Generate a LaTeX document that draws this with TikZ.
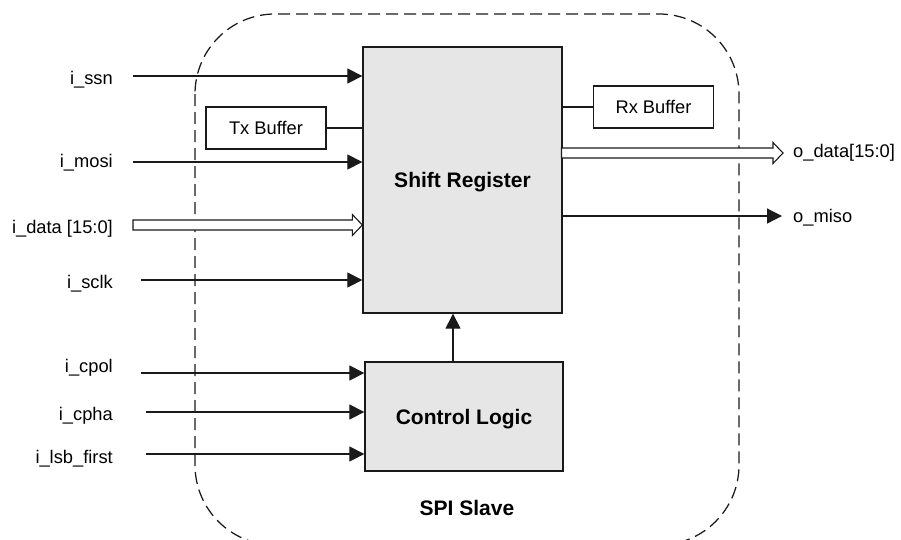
\documentclass[tikz,border=0pt]{standalone}
\usepackage{fontspec}
\setmainfont{Liberation Sans}
\usetikzlibrary{arrows.meta,calc}
\definecolor{blockgray}{HTML}{E6E6E7}
\definecolor{ink}{HTML}{1A1A1A}

% hollow bus arrow between two named points on one horizontal line
\newcommand{\busarrow}[2]{%
  \draw[bus] ($(#1)+(0,-5)$) -- ($(#2)+(-10,-5)$) -- ($(#2)+(-10,-10.5)$)
    -- (#2) -- ($(#2)+(-10,10.5)$) -- ($(#2)+(-10,5)$) -- ($(#1)+(0,5)$) -- cycle;}

\begin{document}
\begin{tikzpicture}[x=1pt,y=-1pt,
  font=\fontsize{18.3}{22}\selectfont,
  block/.style={draw=ink, line width=1.3pt, fill=blockgray, inner sep=0pt,
    text depth=0pt, font=\fontsize{21}{25}\selectfont\bfseries},
  buffer/.style={draw=ink, line width=1.2pt, fill=white, inner sep=0pt,
    minimum width=120pt, minimum height=42pt},
  sig/.style={draw=ink, line width=1.2pt, -{Triangle[length=15pt,width=15pt]}},
  wire/.style={draw=ink, line width=1.2pt},
  bus/.style={draw=ink, line width=1.1pt, fill=white},
  inlabel/.style={anchor=base east, inner sep=0pt},
  outlabel/.style={anchor=base west, inner sep=0pt},
  boundary/.style={draw=ink, line width=1.25pt, dash pattern=on 12pt off 6pt}]

\useasboundingbox (0,0) rectangle (901,539);

% module boundary
\begin{scope}
  \clip (0,0) rectangle (901,539);
  \draw[boundary, rounded corners=80pt] (195,14) rectangle (739,545);
\end{scope}

% main blocks
\node[block, minimum width=199pt, minimum height=266pt] (sr) at (462.5,180) {Shift Register};
\node[block, minimum width=198pt, minimum height=109pt] (cl) at (464,416.5) {Control Logic};
\node[buffer] (tx) at (266,128) {Tx Buffer};
\node[buffer] (rx) at (653.5,107) {Rx Buffer};
\node[anchor=base, inner sep=0pt, font=\fontsize{21}{25}\selectfont\bfseries] (title) at (467,515) {SPI Slave};

% input ports
\node[inlabel] (lssn)  at (113,84)  {i\_ssn};
\node[inlabel] (lmosi) at (113,167) {i\_mosi};
\node[inlabel] (ldata) at (113,233) {i\_data [15:0]};
\node[inlabel] (lsclk) at (113,288) {i\_sclk};
\node[inlabel] (lcpol) at (113,372) {i\_cpol};
\node[inlabel] (lcpha) at (113,420) {i\_cpha};
\node[inlabel] (llsb)  at (113,463) {i\_lsb\_first};

\coordinate (ssn)  at (133,76);
\coordinate (mosi) at (133,162);
\coordinate (din)  at (133,225);
\coordinate (sclk) at (141,280);
\coordinate (cpol) at (141,373);
\coordinate (cpha) at (146,412);
\coordinate (lsb)  at (146,454);

\draw[sig] (ssn)  -- (ssn  -| sr.west);
\draw[sig] (mosi) -- (mosi -| sr.west);
\draw[sig] (sclk) -- (sclk -| sr.west);
\draw[sig] (cpol) -- (cpol -| cl.west);
\draw[sig] (cpha) -- (cpha -| cl.west);
\draw[sig] (lsb)  -- (lsb  -| cl.west);

\coordinate (dintip) at (din -| sr.west);
\busarrow{din}{dintip}

% output ports
\node[outlabel] (lodata) at (793,157) {o\_data[15:0]};
\node[outlabel] (lmiso)  at (793,222) {o\_miso};

\coordinate (dout)    at (561.5,153);
\coordinate (douttip) at (783,153);
\busarrow{dout}{douttip}

\coordinate (misotip) at (782,216);
\draw[sig] (misotip -| sr.east) -- (misotip);

% internal connections
\coordinate (tap) at (453,0);
\draw[sig] (cl.north -| tap) -- (sr.south -| tap);
\draw[wire] (tx.east) -- (tx.east -| sr.west);
\draw[wire] (rx.west -| sr.east) -- (rx.west);

\end{tikzpicture}
\end{document}
